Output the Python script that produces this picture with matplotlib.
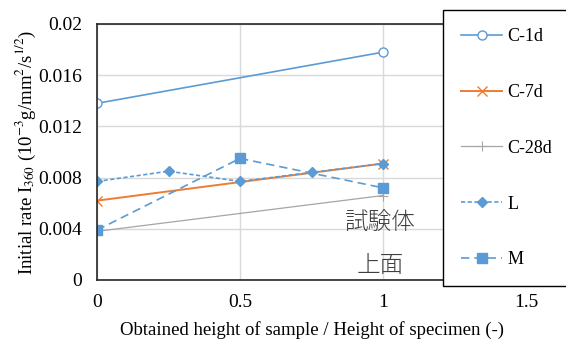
import matplotlib
matplotlib.use("Agg")
import matplotlib.pyplot as plt
from matplotlib.ticker import FuncFormatter

plt.rcParams['font.family'] = ['Liberation Serif', 'Noto Sans CJK JP']
plt.rcParams['mathtext.fontset'] = 'stix'

x_c = [0, 1]
c1d = [0.0138, 0.0178]
c7d = [0.0062, 0.0091]
c28d = [0.0038, 0.0066]
x_l = [0, 0.25, 0.5, 0.75, 1]
l_vals = [0.0077, 0.0085, 0.0077, 0.0084, 0.0091]
x_m = [0, 0.5, 1]
m_vals = [0.0039, 0.0095, 0.0072]

blue = '#5B9BD5'
orange = '#ED7D31'
gray = '#A5A5A5'

fig = plt.figure(figsize=(5.66, 3.4), dpi=100)
ax = fig.add_axes([97/566, 1-280/340, (526-97)/566, (280-24)/340])

h1, = ax.plot(x_c, c1d, color=blue, lw=1.2, marker='o', ms=6.5, mfc='white', mec=blue, label='C-1d')
h2, = ax.plot(x_c, c7d, color=orange, lw=1.4, marker='x', ms=6.5, mew=1.0, label='C-7d')
h3, = ax.plot(x_c, c28d, color=gray, lw=0.9, marker='+', ms=6.5, mew=0.8, label='C-28d')
h4, = ax.plot(x_l, l_vals, color=blue, lw=1.2, ls=(0, (2.5, 1.5)), marker='D', ms=5.5, label='L')
h5, = ax.plot(x_m, m_vals, color=blue, lw=1.2, ls=(0, (5, 3)), marker='s', ms=7.5, label='M')

ax.set_xlim(0, 1.5)
ax.set_ylim(0, 0.02)
ax.set_xticks([0, 0.5, 1, 1.5])
ax.set_yticks([0, 0.004, 0.008, 0.012, 0.016, 0.02])
ax.xaxis.set_major_formatter(FuncFormatter(lambda v, p: f"{v:g}"))
ax.yaxis.set_major_formatter(FuncFormatter(lambda v, p: f"{v:.3f}".rstrip('0').rstrip('.') if v else "0"))
ax.grid(True, color='#d9d9d9', lw=1.0)
ax.set_axisbelow(True)
for s in ax.spines.values():
    s.set_color('#262626')
    s.set_linewidth(1.2)
ax.tick_params(length=0, labelsize=14)
ax.tick_params(axis='y', pad=10.5)
ax.tick_params(axis='x', pad=10)

ax.set_xlabel('Obtained height of sample / Height of specimen (-)', fontsize=13.5, labelpad=7)
ax.set_ylabel('Initial rate I$_{360}$ (10$^{-3}$g/mm$^2$/s$^{1/2}$)', fontsize=13.5, labelpad=0.5)

ax.text(0.99, 0.0044, '試験体', fontsize=17, ha='center', va='center',
        family=['Noto Sans CJK JP'], color='#404040', fontweight='light')
ax.text(0.99, 0.0011, '上面', fontsize=17, ha='center', va='center',
        family=['Noto Sans CJK JP'], color='#404040', fontweight='light')

leg = fig.legend(handles=[h1, h2, h3, h4, h5], loc='upper left',
                 bbox_to_anchor=(443/566, 1-10/340), fontsize=13,
                 frameon=True, fancybox=False, edgecolor='black',
                 framealpha=1, labelspacing=2.15, handlelength=2.27,
                 borderpad=1.0, handletextpad=0.3, borderaxespad=0)
leg.get_frame().set_linewidth(1.0)

fig.savefig('out.png', dpi=100)
